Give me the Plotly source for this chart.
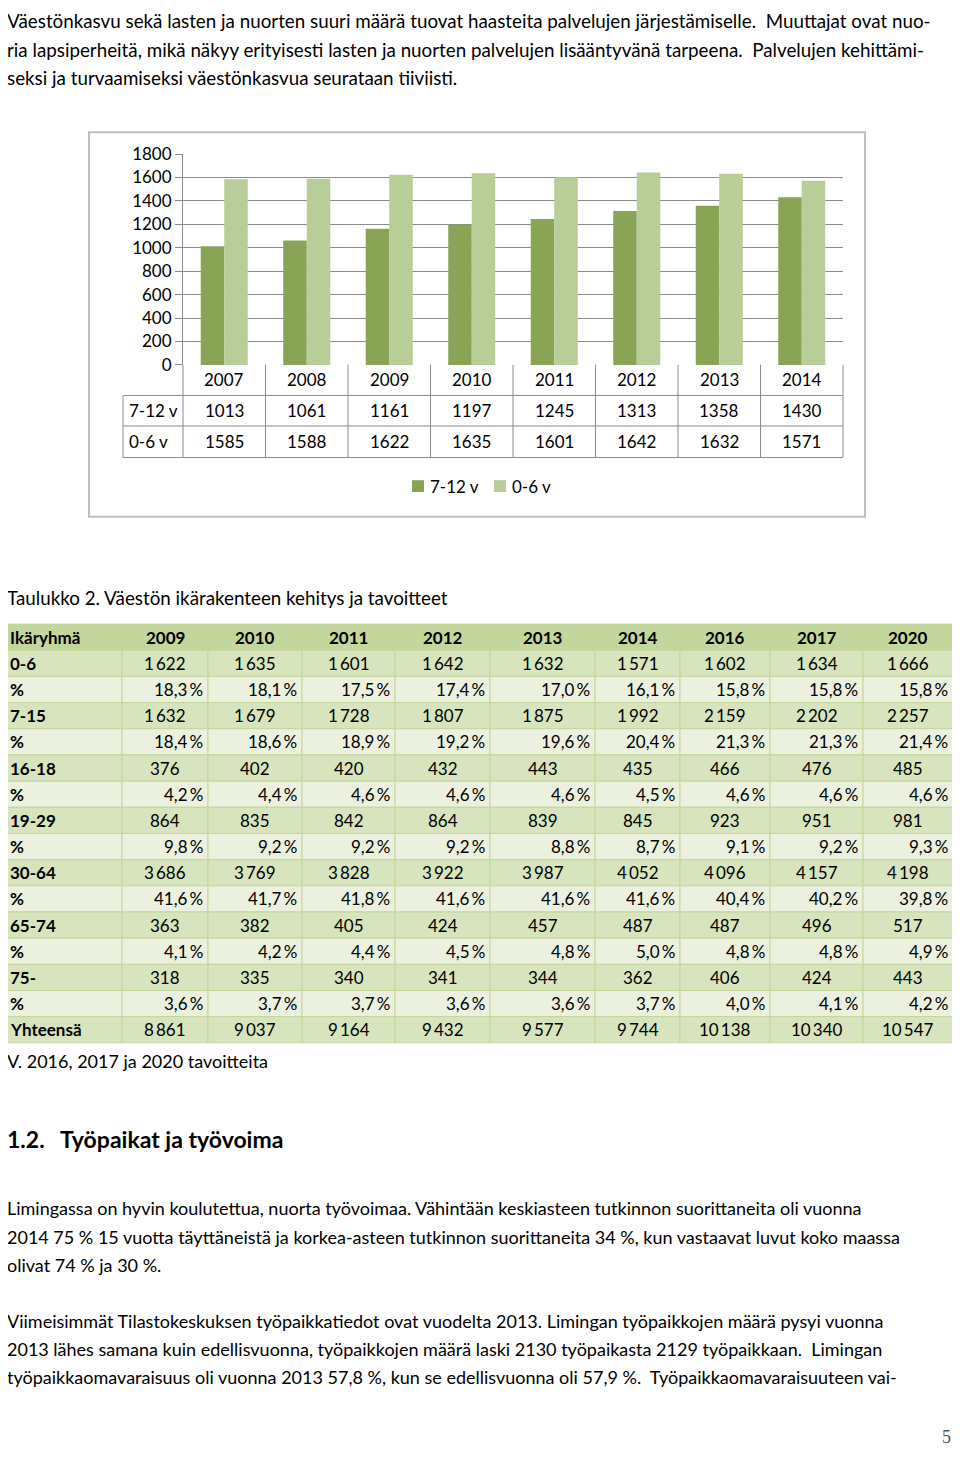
import plotly.graph_objects as go

# The page body keeps an 8px margin, so the figure is 16px smaller than the window
PAGE_W, PAGE_H = 960, 1458
PAD = 8
W, H = PAGE_W - 2 * PAD, PAGE_H - 2 * PAD
FONT = "Lato, Carlito, Calibri, sans-serif"


def X(px):
    return (px - PAD) / W


def Y(py):
    return 1 - (py - PAD) / H


# ── Chart data ───────────────────────────────────────────────
years = ["2007", "2008", "2009", "2010", "2011", "2012", "2013", "2014"]
age_7_12 = [1013, 1061, 1161, 1197, 1245, 1313, 1358, 1430]
age_0_6 = [1585, 1588, 1622, 1635, 1601, 1642, 1632, 1571]
y_ticks = [0, 200, 400, 600, 800, 1000, 1200, 1400, 1600, 1800]

# ── Table data (Taulukko 2) ──────────────────────────────────
tbl_years = ["2009", "2010", "2011", "2012", "2013", "2014", "2016", "2017", "2020"]
n_0_6 = [1622, 1635, 1601, 1642, 1632, 1571, 1602, 1634, 1666]
p_0_6 = [18.3, 18.1, 17.5, 17.4, 17.0, 16.1, 15.8, 15.8, 15.8]
n_7_15 = [1632, 1679, 1728, 1807, 1875, 1992, 2159, 2202, 2257]
p_7_15 = [18.4, 18.6, 18.9, 19.2, 19.6, 20.4, 21.3, 21.3, 21.4]
n_16_18 = [376, 402, 420, 432, 443, 435, 466, 476, 485]
p_16_18 = [4.2, 4.4, 4.6, 4.6, 4.6, 4.5, 4.6, 4.6, 4.6]
n_19_29 = [864, 835, 842, 864, 839, 845, 923, 951, 981]
p_19_29 = [9.8, 9.2, 9.2, 9.2, 8.8, 8.7, 9.1, 9.2, 9.3]
n_30_64 = [3686, 3769, 3828, 3922, 3987, 4052, 4096, 4157, 4198]
p_30_64 = [41.6, 41.7, 41.8, 41.6, 41.6, 41.6, 40.4, 40.2, 39.8]
n_65_74 = [363, 382, 405, 424, 457, 487, 487, 496, 517]
p_65_74 = [4.1, 4.2, 4.4, 4.5, 4.8, 5.0, 4.8, 4.8, 4.9]
n_75 = [318, 335, 340, 341, 344, 362, 406, 424, 443]
p_75 = [3.6, 3.7, 3.7, 3.6, 3.6, 3.7, 4.0, 4.1, 4.2]
n_total = [8861, 9037, 9164, 9432, 9577, 9744, 10138, 10340, 10547]

intro_lines = [
    "Väestönkasvu sekä lasten ja nuorten suuri määrä tuovat haasteita palvelujen järjestämiselle.  Muuttajat ovat nuo-",
    "ria lapsiperheitä, mikä näkyy erityisesti lasten ja nuorten palvelujen lisääntyvänä tarpeena.  Palvelujen kehittämi-",
    "seksi ja turvaamiseksi väestönkasvua seurataan tiiviisti.",
]
para1_lines = [
    "Limingassa on hyvin koulutettua, nuorta työvoimaa. Vähintään keskiasteen tutkinnon suorittaneita oli vuonna",
    "2014 75 % 15 vuotta täyttäneistä ja korkea-asteen tutkinnon suorittaneita 34 %, kun vastaavat luvut koko maassa",
    "olivat 74 % ja 30 %.",
]
para2_lines = [
    "Viimeisimmät Tilastokeskuksen työpaikkatiedot ovat vuodelta 2013. Limingan työpaikkojen määrä pysyi vuonna",
    "2013 lähes samana kuin edellisvuonna, työpaikkojen määrä laski 2130 työpaikasta 2129 työpaikkaan.  Limingan",
    "työpaikkaomavaraisuus oli vuonna 2013 57,8 %, kun se edellisvuonna oli 57,9 %.  Työpaikkaomavaraisuuteen vai-",
]

DARK = "#89a455"
LIGHT = "#b8cd97"
GRID = "#8c8c8c"

shapes, annos = [], []


def text(x, y, s, size=17, anchor="left", bold=False, color="black", family=FONT):
    annos.append(dict(
        x=X(x), y=Y(y), xref="paper", yref="paper", text=f"<b>{s}</b>" if bold else s,
        showarrow=False, xanchor=anchor, yanchor="middle",
        font=dict(family=family, size=size, color=color),
    ))


def line(x0, y0, x1, y1, color=GRID, width=1):
    shapes.append(dict(type="line", xref="paper", yref="paper",
                       x0=X(x0), y0=Y(y0), x1=X(x1), y1=Y(y1),
                       line=dict(color=color, width=width)))


def rect(x0, y0, x1, y1, fill=None, color=None, width=1):
    shapes.append(dict(type="rect", xref="paper", yref="paper", layer="below",
                       x0=X(x0), y0=Y(y0), x1=X(x1), y1=Y(y1),
                       fillcolor=fill or "rgba(0,0,0,0)",
                       line=dict(color=color or "rgba(0,0,0,0)", width=width)))


# ── Intro paragraph ──────────────────────────────────────────
for i, s in enumerate(intro_lines):
    text(5, 10 + i * 28.5, s, size=18.8)

# ── Bar chart ────────────────────────────────────────────────
fig = go.Figure()
fig.add_trace(go.Bar(x=years, y=age_7_12, name="7-12 v", marker=dict(color=DARK, line=dict(width=0))))
fig.add_trace(go.Bar(x=years, y=age_0_6, name="0-6 v", marker=dict(color=LIGHT, line=dict(width=0))))

rect(89, 123, 865, 513, color="#bfbfbf", width=2)

# data table under chart
PL, PR = 183, 843
cw = (PR - PL) / len(years)
for y in (390, 421, 453):
    line(123, y, PR, y)
line(123, 390, 123, 453)
for i in range(len(years) + 1):
    line(PL + i * cw, 359, PL + i * cw, 453)
for i, yr in enumerate(years):
    cx = PL + (i + 0.5) * cw
    text(cx, 374, yr, anchor="center")
    text(cx, 405, str(age_7_12[i]), anchor="center")
    text(cx, 437, str(age_0_6[i]), anchor="center")
text(127, 405, "7-12 v")
text(127, 437, "0-6 v")

# legend
rect(412, 476, 424, 488, fill=DARK)
text(428, 482, "7-12 v")
rect(494, 476, 506, 488, fill=LIGHT)
text(510, 482, "0-6 v")

# ── Table 2 ──────────────────────────────────────────────────
text(5, 595, "Taulukko 2. Väestön ikärakenteen kehitys ja tavoitteet", size=18.8)

col_x = [5, 122, 208, 302, 395, 490, 595, 680, 770, 863, 953]
top, rh = 622, 26.56
HEAD, NUM, PCT, BORDER = "#c3d69b", "#d7e4bd", "#ebf1de", "#c3d69b"


def fmt_n(v):
    return f"{v:,}".replace(",", "\u2009")


def fmt_p(v):
    return f"{v:.1f}".replace(".", ",") + "\u2009%"


rows = [("Ikäryhmä", tbl_years, "head")]
for label, n, p in [("0-6", n_0_6, p_0_6), ("7-15", n_7_15, p_7_15), ("16-18", n_16_18, p_16_18),
                    ("19-29", n_19_29, p_19_29), ("30-64", n_30_64, p_30_64),
                    ("65-74", n_65_74, p_65_74), ("75-", n_75, p_75)]:
    rows.append((label, [fmt_n(v) for v in n], "num"))
    rows.append(("%", [fmt_p(v) for v in p], "pct"))
rows.append(("Yhteensä", [fmt_n(v) for v in n_total], "num"))

for r, (label, vals, kind) in enumerate(rows):
    y0 = top + r * rh
    yc = y0 + rh / 2
    fill = {"head": HEAD, "num": NUM, "pct": PCT}[kind]
    for c in range(len(col_x) - 1):
        rect(col_x[c], y0, col_x[c + 1], y0 + rh, fill=fill, color=BORDER, width=1)
    text(8, yc, label, bold=True)
    for c, v in enumerate(vals):
        x0, x1 = col_x[c + 1], col_x[c + 2]
        if kind == "pct":
            text(x1 - 3, yc, v, anchor="right")
        else:
            text((x0 + x1) / 2, yc, v, anchor="center", bold=(kind == "head"))

text(5, 1065, "V. 2016, 2017 ja 2020 tavoitteita", size=18)

# ── Section heading and body text ────────────────────────────
text(5, 1145, "1.2.", size=23, bold=True)
text(58, 1145, "Työpaikat ja työvoima", size=23, bold=True)

for i, s in enumerate(para1_lines):
    text(5, 1215 + i * 28.5, s, size=18)
for i, s in enumerate(para2_lines):
    text(5, 1329 + i * 28.5, s, size=18)

text(953, 1447, "5", size=18, anchor="right", color="#555555", family="Liberation Serif, serif")

fig.update_layout(
    width=W, height=H,
    margin=dict(l=0, r=0, t=0, b=0),
    paper_bgcolor="white", plot_bgcolor="white",
    showlegend=False,
    barmode="group", bargap=0.43, bargroupgap=0,
    font=dict(family=FONT, size=17, color="black"),
    xaxis=dict(domain=[X(PL), X(PR)], showticklabels=False, showgrid=False,
               showline=False, zeroline=False, ticks=""),
    yaxis=dict(domain=[Y(359), Y(145)], range=[0, 1800], tickvals=y_ticks,
               showgrid=True, gridcolor=GRID, gridwidth=1, zeroline=False,
               showline=True, linecolor=GRID, linewidth=1,
               ticks="outside", ticklen=7, tickcolor=GRID,
               tickfont=dict(family=FONT, size=17, color="black")),
    shapes=shapes, annotations=annos,
)

fig.write_html("out.html", config={"displayModeBar": False})
